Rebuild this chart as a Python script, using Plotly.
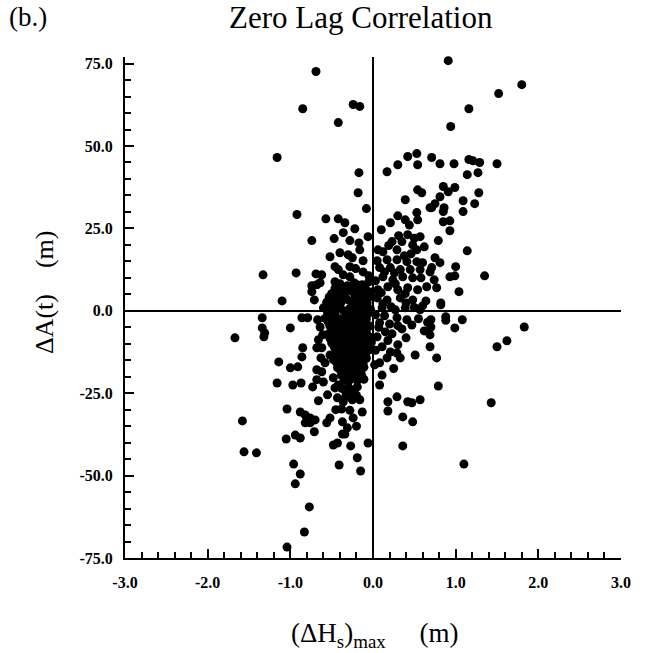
import plotly.graph_objects as go

# Delta Hs max (m) and Delta A(t) (m)
x_vals = [
    # sparse / outer points
    0.91, 1.80, 1.52, 1.16, 0.94, 0.71, 0.81, 0.98, 1.16, 1.21, 1.29, 1.50, 1.14, 1.27,
    -0.24, -0.16, -0.42, -0.17, 0.17, 0.30, 0.42, 0.53, 0.54,
    -0.69, -0.85, -1.16,
    -0.92, -0.74, -1.33, -0.93, -0.69, -0.74, -0.68, -0.74, -1.10, -0.71,
    0.85, 0.91, 0.99, 1.28, 0.81, 1.09, 1.23, 0.75, 0.71, 0.86, 0.85, 1.09, 0.85, 0.93, 0.93, 0.79,
    1.14, 0.75, 0.81, 0.71, 1.00, 1.35, 0.93, 0.99, 0.74, 0.77, 1.04, 0.82,
    0.82, 0.70, 0.70, 0.69, 0.69, 0.88, 0.88, 1.08, 0.99, 1.83, 1.62, 1.50, 0.77, 0.79, 1.43,
    1.10, 0.36,
    -0.71, -1.05, -0.94, -0.88, -1.56, -1.41, -0.96, -0.88, -0.94, -0.77, -0.83, -1.04,
    -0.37, -0.34, -0.48, -0.43, -0.27, -0.06, -0.19, -0.41, -0.15,
    -1.34, -0.86, -0.79, -0.67, -1.34, -1.31, -1.32, -1.00, -1.67, -0.85, -0.68, -0.86, -1.14,
    -1.00, -0.91, -0.68, -1.16, -0.97, -0.87, -0.73, -0.68, -1.04, -0.88, -0.82, -0.76, -0.82,
    -0.76, -0.70, -1.58,
    # upper-centre
    -0.18, -0.08, -0.57, -0.42, -0.34, -0.47, -0.28, -0.17, -0.16, -0.30, -0.25, -0.46, -0.42,
    -0.28, -0.12, -0.62, -0.64, -0.46, -0.28, -0.19, -0.10, -0.40, -0.22, -0.06, -0.52,
    0.39, 0.54, 0.59, 0.53, 0.30, 0.39, 0.21, 0.54, 0.69, 0.42, 0.57, 0.23, 0.35, 0.06, 0.12,
    0.29, 0.48, 0.53, 0.17, 0.29, 0.41, 0.53, 0.60, 0.08, 0.21, 0.33, 0.45, 0.57, 0.12, 0.24,
    0.36, 0.48, 0.06, 0.18, 0.30, 0.42, 0.54, 0.65, 0.05, 0.17, 0.33, 0.48, 0.69,
    # lower-centre
    0.11, 0.27, 0.39, 0.57, 0.29, 0.41, 0.15, 0.30, 0.51, 0.11, 0.21, 0.02, 0.08, 0.17, 0.29,
    0.33, 0.08, 0.18, 0.29, 0.18, 0.42, 0.47, 0.57, 0.36, 0.48,
    -0.61, -0.62, -0.52, -0.58, -0.62, -0.48, -0.42, -0.46, -0.30, -0.19, -0.13, -0.43, -0.36,
    -0.25, -0.16, -0.52, -0.37, -0.24, -0.13, -0.56,
    # dense core, left of the axis
    -0.40, -0.31, -0.23, -0.13, -0.05,
    -0.50, -0.43, -0.35, -0.27, -0.17, -0.09, -0.02,
    -0.56, -0.47, -0.39, -0.31, -0.24, -0.14, -0.07,
    -0.53, -0.44, -0.36, -0.28, -0.20, -0.12, -0.03,
    -0.58, -0.49, -0.41, -0.33, -0.25, -0.16, -0.08,
    -0.52, -0.44, -0.37, -0.29, -0.21, -0.12, -0.04,
    -0.55, -0.47, -0.39, -0.31, -0.23, -0.15, -0.07,
    -0.50, -0.42, -0.34, -0.26, -0.18, -0.10, -0.02,
    -0.45, -0.37, -0.29, -0.21, -0.13, -0.05,
    -0.48, -0.40, -0.32, -0.24, -0.16, -0.08,
    -0.43, -0.35, -0.27, -0.19, -0.11,
    -0.38, -0.30, -0.22, -0.14,
    -0.33, -0.25, -0.38, -0.28, -0.20, -0.31, -0.45,
    -0.36, -0.21, -0.05, -0.52, -0.40, -0.12, -0.06, -0.22, -0.36,
    -0.64, -0.60, -0.66, -0.60, -0.55, -0.66, -0.63,
    # dense core, second layer
    -0.46, -0.36, -0.27, -0.18, -0.09,
    -0.53, -0.43, -0.33, -0.20, -0.11, -0.04,
    -0.50, -0.40, -0.26, -0.17, -0.09,
    -0.55, -0.46, -0.32, -0.24, -0.15, -0.06,
    -0.54, -0.45, -0.36, -0.27, -0.17, -0.09,
    -0.49, -0.40, -0.33, -0.25, -0.17, -0.08,
    -0.52, -0.43, -0.35, -0.27, -0.19, -0.11, -0.04,
    -0.47, -0.39, -0.31, -0.23, -0.15, -0.07,
    -0.41, -0.33, -0.25, -0.17, -0.09,
    -0.44, -0.36, -0.28, -0.20, -0.12,
    -0.39, -0.31, -0.23, -0.15,
    -0.35, -0.27, -0.19, -0.11,
    -0.38, -0.30, -0.22,
    -0.33, -0.20,
    # right of the axis near zero
    0.03, 0.08, 0.14, 0.20, 0.05, 0.23, 0.35, 0.47, 0.55, 0.62, 0.12, 0.40, 0.60, 0.03, 0.26,
    0.46, 0.62,
    0.10, 0.19, 0.31, 0.44, 0.05, 0.14, 0.38, 0.50, 0.27, 0.10, 0.39, 0.22, 0.50, 0.07, 0.30,
    0.18, 0.40, 0.64, 0.66, 0.58, 0.03, 0.11, 0.25,
]
y_vals = [
    75.9, 68.6, 65.9, 61.3, 55.9, 46.5, 44.6, 44.6, 45.9, 45.5, 45.0, 44.6, 41.3, 41.9,
    62.6, 62.0, 57.1, 41.9, 42.2, 44.3, 46.8, 47.7, 44.3,
    72.6, 61.3, 46.5,
    29.2, 21.3, 10.9, 11.5, 11.2, 7.6, 7.9, 5.8, 3.0, 3.3,
    37.7, 36.1, 37.4, 35.8, 34.6, 33.4, 32.5, 32.5, 31.3, 31.3, 30.1, 30.1, 27.0, 27.3, 24.3, 21.3,
    18.2, 16.1, 14.6, 13.1, 13.4, 10.6, 10.3, 10.6, 9.4, 7.0, 5.8, 2.4,
    1.8, -2.7, -4.9, -7.3, -10.9, -1.8, -2.9, -2.7, -5.2, -4.9, -9.1, -10.9, -14.3, -22.8, -27.9,
    -46.5, -41.0,
    -36.7, -38.9, -37.7, -38.6, -42.8, -43.1, -46.5, -49.5, -52.5, -59.5, -67.1, -71.7,
    -37.4, -37.4, -40.7, -40.1, -41.0, -40.1, -44.6, -46.8, -48.6,
    -2.1, -2.1, -2.1, -2.7, -5.2, -6.7, -7.9, -5.2, -8.2, -11.2, -11.2, -14.0, -15.5,
    -17.3, -17.0, -17.9, -21.9, -22.5, -21.9, -23.1, -20.9, -29.8, -30.7, -31.6, -32.5, -34.0,
    -34.0, -33.1, -33.4,
    35.8, 31.0, 27.9, 27.9, 26.7, 21.9, 21.3, 20.6, 18.5, 17.0, 16.1, 13.4, 12.5,
    13.4, 11.8, 10.9, 8.5, 8.8, 10.3, 7.9, 6.4, 5.8, 4.9, 3.9, 3.3,
    33.7, 36.7, 35.8, 29.8, 28.8, 27.6, 26.7, 27.6, 31.3, 23.1, 22.5, 21.0, 21.0, 18.5, 17.9,
    18.5, 20.0, 18.5, 15.5, 15.5, 14.9, 14.9, 14.6, 13.1, 13.1, 12.5, 12.5, 12.5, 10.3, 9.4,
    10.3, 10.0, 6.4, 7.3, 6.4, 7.0, 6.4, 7.3, 3.9, 3.3, 3.9, 3.3, 11.8,
    0.9, 0.3, 0.9, 0.3, -2.1, -2.7, -6.4, -10.3, -13.4, -10.9, -12.5, -16.4, -15.8, -14.3, -12.8,
    -14.3, -22.5, -27.6, -26.1, -30.4, -27.6, -27.9, -27.0, -32.2, -33.7,
    -7.3, -11.2, -13.4, -15.8, -18.5, -20.3, -22.5, -23.4, -21.6, -23.1, -20.3, -26.4, -27.6,
    -27.0, -27.0, -32.5, -33.7, -32.5, -30.7, -34.0,
    8.2, 7.6, 8.5, 7.9, 8.8,
    5.2, 5.9, 5.3, 6.1, 5.5, 5.0, 5.7,
    2.6, 3.1, 2.5, 3.4, 2.8, 3.2, 2.4,
    0.2, 0.8, 0.1, 0.7, 0.3, 0.9, 0.4,
    -2.3, -1.8, -2.4, -1.7, -2.2, -1.9, -2.5,
    -4.7, -4.1, -4.9, -4.3, -4.8, -4.2, -4.6,
    -7.2, -6.8, -7.4, -6.6, -7.1, -6.9, -7.3,
    -9.8, -9.2, -9.9, -9.3, -9.7, -9.1, -9.6,
    -12.3, -11.7, -12.2, -11.8, -12.4, -11.9,
    -14.8, -14.2, -14.7, -14.1, -14.9, -14.4,
    -17.2, -16.8, -17.4, -16.6, -17.1,
    -19.6, -19.1, -19.8, -19.3,
    -24.5, -24.9, -29.8, -30.2, -35.0, -35.5, -30.0,
    10.9, 12.8, 10.6, 16.4, 17.6, 15.2, 22.5, 24.9, 23.7,
    -4.9, 0.9, -8.8, -21.6, -25.5, -27.3, -14.3,
    6.8, 7.1, 6.5, 6.9, 6.6,
    4.2, 4.5, 3.9, 4.3, 4.0, 4.4,
    1.6, 1.9, 1.3, 1.7, 1.5,
    -0.9, -0.6, -1.2, -0.8, -1.0, -0.7,
    -3.4, -3.1, -3.6, -3.2, -3.5, -3.3,
    -5.9, -5.6, -6.1, -5.7, -6.0, -5.8,
    -8.4, -8.1, -8.6, -8.2, -8.5, -8.3, -8.0,
    -10.9, -10.6, -11.1, -10.7, -11.0, -10.8,
    -13.3, -13.0, -13.5, -13.1, -13.4,
    -15.8, -15.5, -16.0, -15.6, -15.9,
    -18.3, -18.0, -18.5, -18.1,
    -21.0, -20.7, -21.2, -20.8,
    -23.5, -23.2, -23.8,
    -26.0, -25.7,
    -1.2, -3.6, -1.5, -4.0, -7.9, -7.0, -5.5, -4.3, -2.4, -6.1, 2.1, 2.4, 1.5, 9.1, 11.5,
    17.3, 19.4,
    24.6, 19.8, 22.8, 26.0, 15.2, 11.8, 16.7, 22.0, 8.2, 5.5, 5.2, 1.2, 1.0, -5.0, -4.5,
    -9.0, -8.2, 3.0, -3.5, 10.0, -12.0, -19.5, -17.5,
]

x_tick_vals = [-3, -2, -1, 0, 1, 2, 3]
x_tick_text = ["-3.0", "-2.0", "-1.0", "0.0", "1.0", "2.0", "3.0"]
y_tick_vals = [-75, -50, -25, 0, 25, 50, 75]
y_tick_text = ["-75.0", "-50.0", "-25.0", "0.0", "25.0", "50.0", "75.0"]

SERIF = "Liberation Serif, Times New Roman, serif"

fig = go.Figure()
fig.add_trace(go.Scatter(
    x=x_vals, y=y_vals, mode="markers",
    marker=dict(size=9, color="black", line=dict(width=0)),
    showlegend=False, cliponaxis=False,
))

axis_common = dict(
    showline=True, linecolor="black", linewidth=2, mirror=False,
    ticks="inside", ticklen=9, tickwidth=2, tickcolor="black",
    showgrid=False, zeroline=True, zerolinecolor="black", zerolinewidth=2,
    tickfont=dict(family=SERIF, size=16, color="black", weight="bold"),
)

fig.update_xaxes(
    range=[-3, 3], tickvals=x_tick_vals, ticktext=x_tick_text,
    minor=dict(ticks="inside", ticklen=6, tickwidth=2, dtick=0.2, tick0=0, tickcolor="black"),
    ticklabelstandoff=9,
    **axis_common,
)
fig.update_yaxes(
    range=[-75, 77], tickvals=y_tick_vals, ticktext=y_tick_text,
    minor=dict(ticks="inside", ticklen=6, tickwidth=2, dtick=5, tick0=0, tickcolor="black"),
    ticklabelstandoff=7,
    **axis_common,
)

fig.update_layout(
    width=646, height=653,
    margin=dict(l=125, r=25, t=57, b=95),
    plot_bgcolor="white", paper_bgcolor="white",
    font=dict(family=SERIF, color="black"),
    annotations=[
        dict(text="(b.)", xref="paper", yref="paper", x=-0.237, y=1.079,
             xanchor="left", yanchor="middle", showarrow=False,
             font=dict(family=SERIF, size=27, color="black")),
        dict(text="Zero Lag Correlation", xref="paper", yref="paper", x=0.476, y=1.079,
             xanchor="center", yanchor="middle", showarrow=False,
             font=dict(family=SERIF, size=31, color="black")),
        dict(text="\u0394A(t)    (m)", xref="paper", yref="paper", x=-0.161, y=0.531,
             xanchor="center", yanchor="middle", showarrow=False, textangle=-90,
             font=dict(family=SERIF, size=26, color="black")),
        dict(text="(\u0394H<sub>s</sub>)<sub>max</sub>     (m)", xref="paper", yref="paper",
             x=0.504, y=-0.154, xanchor="center", yanchor="middle", showarrow=False,
             font=dict(family=SERIF, size=27, color="black")),
    ],
)

fig.write_html("out.html")
